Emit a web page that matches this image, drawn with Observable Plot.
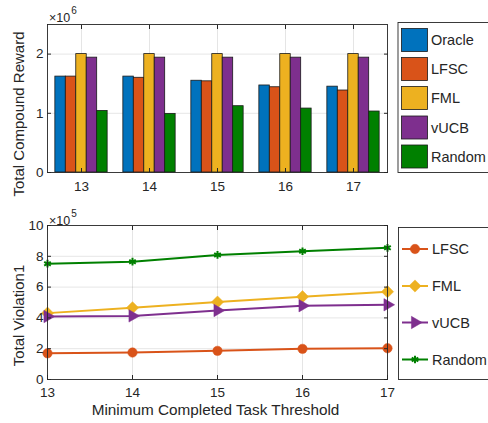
<!DOCTYPE html>
<html>
<head>
<meta charset="utf-8">
<script src="https://cdn.jsdelivr.net/npm/d3@7"></script>
<script src="https://cdn.jsdelivr.net/npm/@observablehq/plot@0.6"></script>
<style>
  html, body { margin: 0; padding: 0; background: #fff; }
  #wrap { position: relative; width: 488px; height: 423px; overflow: hidden; background: #fff; font-family: "Liberation Sans", Arial, sans-serif; }
  #wrap > * { position: absolute; left: 0; }
</style>
</head>
<body>
<div id="wrap"></div>
<script>
// ---------- data ----------
const categories = [13, 14, 15, 16, 17];
const barSeries = ["Oracle", "LFSC", "FML", "vUCB", "Random"];
const barColors = ["#0072BD", "#D95319", "#EDB120", "#7E2F8E", "#008000"];
const rewardOracle = [1.62e6, 1.62e6, 1.55e6, 1.47e6, 1.45e6];
const rewardLFSC   = [1.62e6, 1.60e6, 1.54e6, 1.44e6, 1.385e6];
const rewardFML    = [2.00e6, 2.00e6, 2.00e6, 2.00e6, 2.00e6];
const rewardVUCB   = [1.94e6, 1.94e6, 1.94e6, 1.94e6, 1.94e6];
const rewardRandom = [1.04e6, 0.99e6, 1.12e6, 1.08e6, 1.03e6];
const rewardTicks = [0, 1e6, 2e6];

const lineSeries = ["LFSC", "FML", "vUCB", "Random"];
const lineColors = ["#D95319", "#EDB120", "#7E2F8E", "#008000"];
const violLFSC   = [1.70e5, 1.75e5, 1.86e5, 1.99e5, 2.03e5];
const violFML    = [4.31e5, 4.66e5, 5.03e5, 5.38e5, 5.70e5];
const violVUCB   = [4.09e5, 4.13e5, 4.48e5, 4.79e5, 4.85e5];
const violRandom = [7.52e5, 7.65e5, 8.09e5, 8.33e5, 8.55e5];
const violTicks = [0, 2e5, 4e5, 6e5, 8e5, 10e5];

// ---------- tables ----------
const rewardArrays = [rewardOracle, rewardLFSC, rewardFML, rewardVUCB, rewardRandom];
const groupWidth = 0.769;
const bw = groupWidth / barSeries.length;
const barData = [];
barSeries.forEach((s, i) => categories.forEach((c, j) => {
  barData.push({series: s, cat: c, value: rewardArrays[i][j],
    x1: c - groupWidth / 2 + i * bw, x2: c - groupWidth / 2 + (i + 1) * bw});
}));
const violArrays = [violLFSC, violFML, violVUCB, violRandom];
const lineData = [];
lineSeries.forEach((s, i) => categories.forEach((c, j) => lineData.push({series: s, cat: c, value: violArrays[i][j]})));

const FONT = "Liberation Sans, Arial, sans-serif";
const INK = "#262626";
const gridStyle = {stroke: "#000", strokeOpacity: 0.13, strokeWidth: 0.8};

// ---------- top chart ----------
const topChart = Plot.plot({
  width: 488, height: 205,
  marginLeft: 47, marginRight: 101, marginTop: 24, marginBottom: 33,
  style: {fontFamily: FONT, fontSize: "13.5px", color: INK, background: "transparent", overflow: "visible"},
  x: {type: "linear", domain: [12.5, 17.5]},
  y: {domain: [0, 2.5e6]},
  color: {domain: barSeries, range: barColors},
  marks: [
    Plot.gridY(rewardTicks.slice(1), gridStyle),
    Plot.gridX(categories, gridStyle),
    Plot.rectY(barData, {x1: "x1", x2: "x2", y: "value", fill: "series", stroke: "#1a1a1a", strokeWidth: 0.8}),
    Plot.frame({stroke: INK, strokeWidth: 0.9}),
    Plot.axisX(categories, {tickSize: 0, tickPadding: 9, tickFormat: d => String(d), label: null}),
    Plot.axisX(categories, {anchor: "bottom", tickSize: 4, dy: -4, tickFormat: () => "", label: null, stroke: INK}),
    Plot.axisX(categories, {anchor: "top", tickSize: 4, dy: 4, tickFormat: () => "", label: null, stroke: INK}),
    Plot.axisY(rewardTicks, {tickSize: 0, tickPadding: 4, tickFormat: d => String(d / 1e6), label: null}),
    Plot.axisY(rewardTicks, {anchor: "left", tickSize: 4, dx: 4, tickFormat: () => "", label: null, stroke: INK}),
    Plot.axisY(rewardTicks, {anchor: "right", tickSize: 4, dx: -4, tickFormat: () => "", label: null, stroke: INK}),
    Plot.text(["Total Compound Reward"], {frameAnchor: "left", text: d => d, textAnchor: "middle", lineAnchor: "middle", rotate: -90, dx: -28, dy: 15.5, fontSize: 15, fill: INK})
  ]
});
topChart.style.top = "0px";

// ---------- bottom chart ----------
const symbols = {LFSC: "circle", FML: "diamond2", vUCB: "triangle", Random: "asterisk"};
const radii = {LFSC: 4.7, FML: 5.5, vUCB: 4.6, Random: 3.6};
const lineMarks = [];
lineSeries.forEach((s, i) => {
  const d = lineData.filter(r => r.series === s);
  lineMarks.push(Plot.line(d, {x: "cat", y: "value", stroke: lineColors[i], strokeWidth: 2}));
  if (s === "Random") {
    lineMarks.push(Plot.dot(d, {x: "cat", y: "value", symbol: "asterisk", r: radii[s], stroke: lineColors[i], strokeWidth: 2}));
  } else {
    lineMarks.push(Plot.dot(d, {x: "cat", y: "value", symbol: symbols[s], r: radii[s], fill: lineColors[i], stroke: lineColors[i], strokeWidth: 0.5, rotate: s === "vUCB" ? 90 : 0}));
  }
});

const bottomChart = Plot.plot({
  width: 488, height: 218,
  marginLeft: 47, marginRight: 101, marginTop: 20, marginBottom: 44,
  style: {fontFamily: FONT, fontSize: "13.5px", color: INK, background: "transparent", overflow: "visible"},
  x: {type: "linear", domain: [13, 17]},
  y: {domain: [0, 1e6]},
  marks: [
    Plot.gridY(violTicks.slice(1, -1), gridStyle),
    Plot.gridX(categories.slice(1, -1), gridStyle),
    ...lineMarks,
    Plot.frame({stroke: INK, strokeWidth: 0.9}),
    Plot.axisX(categories, {tickSize: 0, tickPadding: 8, tickFormat: d => String(d), label: null}),
    Plot.axisX(categories, {anchor: "bottom", tickSize: 4, dy: -4, tickFormat: () => "", label: null, stroke: INK}),
    Plot.axisX(categories, {anchor: "top", tickSize: 4, dy: 4, tickFormat: () => "", label: null, stroke: INK}),
    Plot.axisY(violTicks, {tickSize: 0, tickPadding: 4, tickFormat: d => String(d / 1e5), label: null}),
    Plot.axisY(violTicks, {anchor: "left", tickSize: 4, dx: 4, tickFormat: () => "", label: null, stroke: INK}),
    Plot.axisY(violTicks, {anchor: "right", tickSize: 4, dx: -4, tickFormat: () => "", label: null, stroke: INK}),
    Plot.text(["Total Violation1"], {frameAnchor: "left", text: d => d, textAnchor: "middle", lineAnchor: "middle", rotate: -90, dx: -28, dy: 13, fontSize: 15, fill: INK}),
    Plot.text(["Minimum Completed Task Threshold"], {frameAnchor: "bottom", text: d => d, textAnchor: "middle", lineAnchor: "middle", dx: -2, dy: 31, fontSize: 15.3, fill: INK})
  ]
});
bottomChart.style.top = "205px";

const wrap = document.getElementById("wrap");
wrap.appendChild(topChart);
wrap.appendChild(bottomChart);

// ---------- overlay: exponents and legends ----------
const leg = d3.create("svg").attr("width", 488).attr("height", 423)
  .style("position", "absolute").style("top", "0px").style("left", "0px");

// axis exponent labels (×10^n)
const exponents = [{base: "×10", exp: "6", x: 49, y: 17}, {base: "×10", exp: "5", x: 49, y: 220}];
exponents.forEach(e => {
  const t = leg.append("text").attr("x", e.x).attr("y", e.y).attr("dy", "0.36em")
    .attr("font-family", FONT).attr("font-size", 12.5).attr("fill", INK);
  t.append("tspan").text(e.base);
  t.append("tspan").attr("font-size", 10).attr("dx", 1).attr("dy", -8).text(e.exp);
});

// bar legend
leg.append("rect").attr("x", 398).attr("y", 22.5).attr("width", 100).attr("height", 150)
  .attr("fill", "#fff").attr("stroke", INK).attr("stroke-width", 0.9);
const barRowY = [40, 69, 98, 127.5, 156.5];
barSeries.forEach((s, i) => {
  const g = leg.append("g").attr("transform", `translate(0,${barRowY[i]})`);
  g.append("rect").attr("x", 401.5).attr("y", -11.5).attr("width", 26).attr("height", 23)
    .attr("fill", barColors[i]).attr("stroke", "#1a1a1a").attr("stroke-width", 0.8);
  g.append("text").attr("x", 431).attr("dy", "0.36em").attr("fill", INK)
    .attr("font-family", FONT).attr("font-size", 14.5).attr("font-weight", 400).text(s);
});

// line legend
leg.append("rect").attr("x", 398.5).attr("y", 227.5).attr("width", 100).attr("height", 152)
  .attr("fill", "#fff").attr("stroke", INK).attr("stroke-width", 0.9);
const lineRowY = [249, 286, 322.5, 359.5];
const symMap = {LFSC: d3.symbolCircle, FML: d3.symbolDiamond2, vUCB: d3.symbolTriangle, Random: d3.symbolAsterisk};
lineSeries.forEach((s, i) => {
  const g = leg.append("g").attr("transform", `translate(0,${lineRowY[i]})`);
  g.append("line").attr("x1", 402).attr("x2", 428).attr("stroke", lineColors[i]).attr("stroke-width", 2);
  const r = radii[s];
  const p = d3.symbol(symMap[s], Math.PI * r * r)();
  const sym = g.append("path").attr("d", p)
    .attr("transform", `translate(415,0)${s === "vUCB" ? " rotate(90)" : ""}`);
  if (s === "Random") sym.attr("fill", "none").attr("stroke", lineColors[i]).attr("stroke-width", 2);
  else sym.attr("fill", lineColors[i]).attr("stroke", lineColors[i]).attr("stroke-width", 0.5);
  g.append("text").attr("x", 432).attr("dy", "0.36em").attr("fill", INK)
    .attr("font-family", FONT).attr("font-size", 14.5).attr("font-weight", 400).text(s);
});
wrap.appendChild(leg.node());
</script>
</body>
</html>
